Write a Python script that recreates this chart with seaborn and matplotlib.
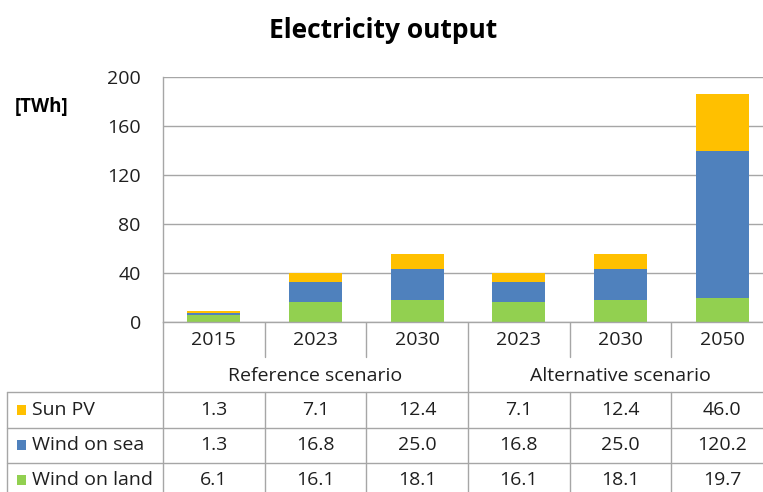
import numpy as np
import pandas as pd
import matplotlib
matplotlib.use("Agg")
import matplotlib.pyplot as plt
import matplotlib.transforms as mtransforms
from matplotlib.patches import Rectangle
import seaborn as sns

years = ["2015", "2023", "2030", "2023", "2030", "2050"]
scenarios = ["Reference scenario"] * 3 + ["Alternative scenario"] * 3
scenario_names = ["Reference scenario", "Alternative scenario"]
sun_pv = [1.3, 7.1, 12.4, 7.1, 12.4, 46.0]
wind_sea = [1.3, 16.8, 25.0, 16.8, 25.0, 120.2]
wind_land = [6.1, 16.1, 18.1, 16.1, 18.1, 19.7]
series_names = ["Sun PV", "Wind on sea", "Wind on land"]
series_colors = ["#FFC000", "#4F81BD", "#92D050"]
y_ticks = [0, 40, 80, 120, 160, 200]

# Stacked tops for the overlap trick
df = pd.DataFrame({
    "slot": [f"{s} {y}" for s, y in zip(scenarios, years)],
    "land": wind_land,
    "sea": wind_sea,
    "pv": sun_pv,
})
df["land_top"] = df["land"]
df["sea_top"] = df["land"] + df["sea"]
df["pv_top"] = df["sea_top"] + df["pv"]

sns.set_style("white")
plt.rcParams["font.family"] = ["Open Sans", "DejaVu Sans"]

W, H = 763, 492
fig = plt.figure(figsize=(W / 100, H / 100), dpi=100)

# plot area in pixels: x 163..773 (cut off on the right), y 77..322
px_left, px_right, px_top, px_bot = 163, 773, 77, 322
ax = fig.add_axes([px_left / W, 1 - px_bot / H, (px_right - px_left) / W, (px_bot - px_top) / H])

grid_col = "#A6A6A6"
txt_col = "#1F1F1F"
fs = 14
for col, color in zip(["pv_top", "sea_top", "land_top"], series_colors):
    sns.barplot(data=df, x="slot", y=col, order=list(df["slot"]), color=color,
                saturation=1, width=0.52, linewidth=0, ax=ax)

ax.set_ylim(0, 200)
ax.set_xlim(-0.5, 5.5)
ax.set_yticks(y_ticks)
ax.set_yticklabels([str(t) for t in y_ticks], fontsize=fs, color=txt_col)
ax.set_xticks([])
ax.set_xlabel("")
ax.set_ylabel("")
ax.tick_params(axis="y", length=0, pad=16)
ax.yaxis.grid(True, color=grid_col, lw=1)
ax.set_axisbelow(True)
for s in ["top", "right"]:
    ax.spines[s].set_visible(False)
for s in ["left", "bottom"]:
    ax.spines[s].set_color(grid_col)
    ax.spines[s].set_linewidth(1)

# overlay in pixel coordinates for title and data table
ov = fig.add_axes([0, 0, 1, 1], zorder=-1)
ov.set_xlim(0, W)
ov.set_ylim(H, 0)
ov.axis("off")
blend = mtransforms.blended_transform_factory(ax.transData, ov.transData)

ov.text(383, 31, "Electricity output", ha="center", va="center",
        fontsize=19, fontweight="bold", color="black")
ov.text(42, 107, "[TWh]", ha="center", va="center", fontsize=13.5,
        fontweight="bold", color="black")

line_kw = dict(color=grid_col, lw=1)
row_year, row_scen = 322, 357
row_lines = [392, 428, 463]
bottom = H + 5

# category axis part of the table
for i in range(len(years)):
    ov.text(i, 340, years[i], transform=blend, ha="center", va="center",
            fontsize=fs, color=txt_col)
for i in [0, 1, 3, 4]:
    ov.plot([i + 0.5, i + 0.5], [row_year, row_scen], transform=blend, **line_kw)
    ov.plot([i + 0.5, i + 0.5], [row_lines[0], bottom], transform=blend, **line_kw)
ov.plot([2.5, 2.5], [row_year, bottom], transform=blend, **line_kw)
ov.plot([-0.5, -0.5], [row_year, bottom], transform=blend, **line_kw)
for k, name in enumerate(scenario_names):
    ov.text(1 + 3 * k, 376, name, transform=blend, ha="center", va="center",
            fontsize=fs, color=txt_col)

# data rows
ov.plot([7, 7], [row_lines[0], bottom], **line_kw)
for y in row_lines:
    ov.plot([7, W + 5], [y, y], **line_kw)

row_values = [sun_pv, wind_sea, wind_land]
row_centers = [410, 445, 480]
for name, color, vals, yc in zip(series_names, series_colors, row_values, row_centers):
    ov.add_patch(Rectangle((17, yc - 5), 9, 10, facecolor=color, edgecolor="none"))
    ov.text(32, yc, name, ha="left", va="center", fontsize=fs, color=txt_col)
    for i, v in enumerate(vals):
        ov.text(i, yc, f"{v:.1f}", transform=blend, ha="center", va="center",
                fontsize=fs, color=txt_col)

fig.savefig("out.png", dpi=100)
